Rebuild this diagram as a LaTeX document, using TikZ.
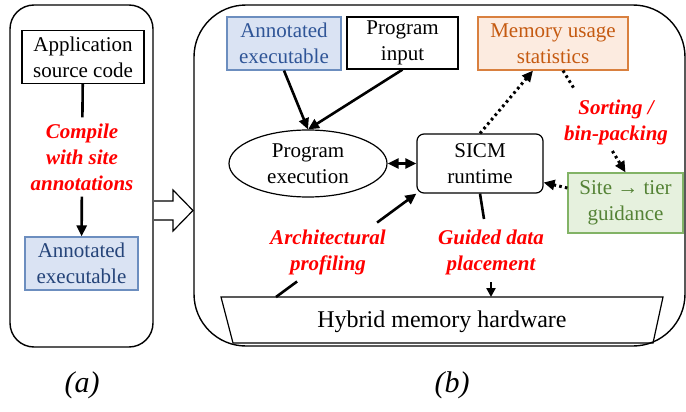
\documentclass[tikz,border=0pt]{standalone}
\usepackage{fontspec}
\setmainfont{Liberation Serif}
\usetikzlibrary{arrows.meta, shapes.geometric, positioning}
\definecolor{exefill}{HTML}{DAE3F3}
\definecolor{exeedge}{HTML}{6C8EBF}
\definecolor{exetext}{HTML}{2F5597}
\definecolor{memfill}{HTML}{FCEBE0}
\definecolor{memedge}{HTML}{D9803F}
\definecolor{memtext}{HTML}{C55A11}
\definecolor{sitefill}{HTML}{E6F1DE}
\definecolor{siteedge}{HTML}{82B366}
\definecolor{sitetext}{HTML}{548235}

\begin{document}
\begin{tikzpicture}[x=1pt,y=-1pt,>={Triangle[length=11pt,width=10pt]},
    font=\fontsize{21}{26}\selectfont,
    box/.style={draw,line width=1.2pt,align=center,inner sep=0pt},
    tag/.style={text=red,font=\fontsize{21}{26}\selectfont\bfseries\itshape,align=center,inner sep=6pt},
    flow/.style={line width=2.6pt},
    dots/.style={line width=3pt,dash pattern=on 2.6pt off 3.2pt},
    panel/.style={draw,line width=1.4pt}]
    \useasboundingbox (0,0) rectangle (686,412);

    % (a) compile step
    \draw[panel,rounded corners=24] (10,5) rectangle (153,347);
    \node[box,minimum width=122,minimum height=53] (src) at (83,57) {Application\\source code};
    \node[tag] (cmp) at (82,157) {Compile\\with site\\annotations};
    \node[box,fill=exefill,draw=exeedge,text=exetext!80!black,minimum width=113,minimum height=53] (exeA) at (81.5,263.5) {Annotated\\executable};

    \draw[line width=1.2pt,fill=white] (154,201) -- (173,201) -- (173,190) -- (193,210.5)
        -- (173,231) -- (173,220) -- (154,220);

    % (b) run time
    \draw[panel,rounded corners=52] (194,5) rectangle (685,346);
    \node[box,fill=exefill,draw=exeedge,text=exetext,minimum width=114,minimum height=53] (exeB) at (284,43.5) {Annotated\\executable};
    \node[box,minimum width=111,minimum height=52] (inp) at (402.5,43) {Program\\input};
    \node[box,fill=memfill,draw=memedge,text=memtext,minimum width=150,minimum height=53] (mem) at (553,43.5) {Memory usage\\statistics};
    \node[ellipse,draw,line width=1.2pt,align=center,inner sep=0pt,minimum width=158,minimum height=67] (exe) at (308,163.5) {Program\\execution};
    \node[box,rounded corners=7,minimum width=126,minimum height=59] (sicm) at (480,163.5) {SICM\\runtime};
    \node[box,fill=sitefill,draw=siteedge,text=sitetext,minimum width=115,minimum height=60] (site) at (625.5,203) {Site → tier\\guidance};
    \node[tag] (sort) at (616,122) {Sorting /\\bin-packing};
    \node[tag] (arch) at (328,252) {Architectural\\profiling};
    \node[tag] (guide) at (491,252) {Guided data\\placement};

    % memory hardware (wide top)
    \draw[line width=1.2pt] (221,297) -- (663,297) -- (653,343) -- (233,343) -- cycle;
    \node[font=\fontsize{24}{28}\selectfont] (hw) at (442,322) {Hybrid memory hardware};
    \coordinate (hwtop) at (442,297);

    \node[font=\fontsize{30}{36}\selectfont\itshape] (capA) at (82,385) {(a)};
    \node[font=\fontsize{30}{36}\selectfont\itshape] (capB) at (452,385) {(b)};

    \coordinate (hwA) at (276,297);
    \coordinate (g1) at (484,219);
    \coordinate (g2) at (491,282);
    \path (hwA) -- (sicm.south west) coordinate[pos=0.15] (a1) coordinate[pos=0.72] (a2);
    \path ([xshift=10pt]mem.south) -- (site.north) coordinate[pos=0.19] (s1) coordinate[pos=0.79] (s2);

    \draw[flow] (src) -- (cmp);
    \draw[flow,->] (cmp) -- (exeA);
    \draw[flow,->] (exeB.south) -- (exe.north);
    \draw[flow,->] (inp.south) -- (exe.north);
    \draw[flow,<->] (exe) -- (sicm);
    \draw[dots,->] (sicm.north) -- ([xshift=-20pt]mem.south);
    \draw[dots] ([xshift=10pt]mem.south) -- (s1);
    \draw[dots,->] (s2) -- (site.north);
    \draw[dots,->] ([yshift=15pt]site.west) -- ([yshift=-19pt]sicm.east);
    \draw[flow] (hwA) -- (a1);
    \draw[flow,->] (a2) -- (sicm.south west);
    \draw[flow] (sicm.south) -- (g1);
    \draw[flow,->,>={Triangle[length=9pt,width=9pt]}] (g2) -- (g2 |- hwtop);
\end{tikzpicture}
\end{document}
